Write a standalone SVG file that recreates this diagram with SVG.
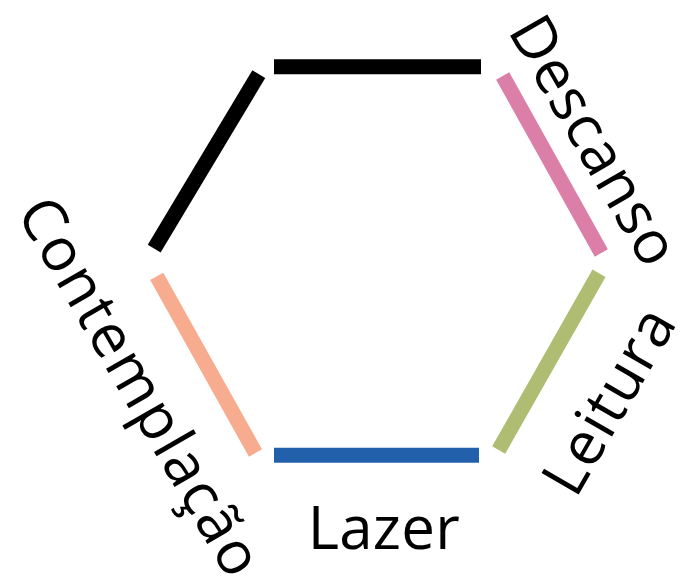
<svg xmlns="http://www.w3.org/2000/svg" width="695" height="576" viewBox="0 0 695 576">
<style>
.e{stroke-width:15;stroke-linecap:butt;fill:none}
.t{font-family:"Open Sans","Noto Sans","DejaVu Sans",sans-serif;font-size:60px;fill:#000;text-anchor:middle}
</style>
<rect width="695" height="576" fill="#fff"/>
<g id="connectors">
<line class="e" x1="274" y1="66.7" x2="481" y2="66.7" stroke="#000"/>
<line class="e" x1="258.8" y1="74.2" x2="154.2" y2="248.7" stroke="#000"/>
<line class="e" x1="502.7" y1="76" x2="601.3" y2="253" stroke="#db7fa8"/>
<line class="e" x1="599" y1="273.3" x2="498.7" y2="450" stroke="#afbd72"/>
<line class="e" x1="274" y1="455.3" x2="479" y2="455.3" stroke="#2360ac"/>
<line class="e" x1="156.7" y1="276.3" x2="255.5" y2="453" stroke="#f8ac8f"/>
</g>
<g id="descanso"><text class="t" transform="translate(576.4,150.8) rotate(60)" textLength="277">Descanso</text></g>
<g id="leitura"><text class="t" transform="translate(626.7,411.2) rotate(-60)" textLength="204">Leitura</text></g>
<g id="lazer"><text class="t" x="383.7" y="549" textLength="152">Lazer</text></g>
<g id="contemplacao"><text class="t" transform="translate(122.3,396.7) rotate(60)" textLength="426">Contemplação</text></g>
</svg>
